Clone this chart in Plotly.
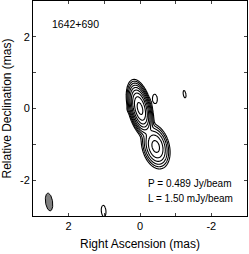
import numpy as np
import plotly.graph_objects as go

# Gaussian model components of the map (RA offset mas, Dec offset mas, peak mJy/beam,
# sigma along major axis mas, sigma along minor axis mas, position angle deg E of N)
comp_ra = [0.0, -0.44, 0.30, -0.42, -1.25, 1.02]
comp_dec = [0.0, -1.06, -0.02, 0.27, 0.40, -2.86]
comp_peak = [489.0, 62.0, 1.7, 2.3, 2.3, 2.3]
comp_smaj = [0.245, 0.235, 0.06, 0.14, 0.11, 0.17]
comp_smin = [0.10, 0.14, 0.05, 0.07, 0.04, 0.07]
comp_pa = [14.0, 15.0, 0.0, 5.0, 10.0, 5.0]

# contour levels (mJy/beam): lowest level L, doubling
levels = [1.5, 3, 6, 12, 24, 48, 96, 192, 384]

# restoring beam
beam_ra = 2.55
beam_dec = -2.61
beam_smaj = 0.25
beam_smin = 0.10
beam_pa = 8.0

title_text = "1642+690"
peak_text = "P = 0.489 Jy/beam"
low_text = "L = 1.50 mJy/beam"

x_ticks = [2, 0, -2]
x_ticklabels = ["2", "0", "-2"]
y_ticks = [2, 0, -2]
y_ticklabels = ["2", "0", "-2"]

# --- build map ---
grid = np.linspace(-3.0, 3.0, 601)
X, Y = np.meshgrid(grid, grid)
I = np.zeros_like(X)
for x0, y0, p, a, b, pa in zip(comp_ra, comp_dec, comp_peak, comp_smaj, comp_smin, comp_pa):
    t = np.deg2rad(pa)
    dx = X - x0
    dy = Y - y0
    u = dx * np.sin(t) + dy * np.cos(t)
    v = dx * np.cos(t) - dy * np.sin(t)
    I += p * np.exp(-0.5 * (u**2 / a**2 + v**2 / b**2))

lev = np.array(levels, dtype=float)
Z = np.log2(np.maximum(I, 1e-6) / lev[0])
Z = np.clip(Z, -4, 12).astype(np.float32)

fig = go.Figure()
fig.add_trace(go.Contour(
    x=grid, y=grid, z=Z,
    contours=dict(start=0, end=len(levels) - 1, size=1, coloring="lines"),
    colorscale=[[0, "black"], [1, "black"]],
    showscale=False,
    line=dict(width=1.1, smoothing=1),
    hoverinfo="skip",
))

# beam ellipse
th = np.linspace(0, 2 * np.pi, 100)
bt = np.deg2rad(beam_pa)
bu = beam_smaj * np.cos(th)
bv = beam_smin * np.sin(th)
bx = beam_ra + bu * np.sin(bt) + bv * np.cos(bt)
by = beam_dec + bu * np.cos(bt) - bv * np.sin(bt)
fig.add_trace(go.Scatter(
    x=bx, y=by, mode="lines", fill="toself",
    fillcolor="#808080", line=dict(color="black", width=1),
    hoverinfo="skip",
))

font_family = "Liberation Sans, Arial, Helvetica, sans-serif"

fig.add_annotation(x=2.52, y=2.35, xref="x", yref="y", text=title_text,
                   showarrow=False, xanchor="left", yanchor="middle",
                   font=dict(size=10.5, color="black"))
fig.add_annotation(x=-0.17, y=-2.09, xref="x", yref="y", text=peak_text,
                   showarrow=False, xanchor="left", yanchor="middle",
                   font=dict(size=10, color="black"))
fig.add_annotation(x=-0.17, y=-2.5, xref="x", yref="y", text=low_text,
                   showarrow=False, xanchor="left", yanchor="middle",
                   font=dict(size=10, color="black"))

axis_common = dict(
    showgrid=False, zeroline=False, automargin=True,
    showline=True, linecolor="black", linewidth=1, mirror="allticks",
    ticks="inside", ticklen=3, tickcolor="#444444", tickwidth=1,
    minor=dict(dtick=1, ticks="inside", ticklen=3, tickcolor="#444444", showgrid=False),
    tickfont=dict(size=11, color="black"),
)

fig.update_layout(
    width=249, height=254,
    margin=dict(l=33, r=2, t=1, b=38, autoexpand=False),
    paper_bgcolor="white", plot_bgcolor="white",
    showlegend=False,
    font=dict(family=font_family, color="black"),
    xaxis=dict(range=[3, -3], tickvals=x_ticks, ticktext=x_ticklabels,
               title=dict(text="Right Ascension (mas)", font=dict(size=12), standoff=8),
               **axis_common),
    yaxis=dict(range=[-3, 3], tickvals=y_ticks, ticktext=y_ticklabels,
               title=dict(text="Relative Declination (mas)", font=dict(size=12), standoff=5),
               **axis_common),
)

fig.write_html("out.html", config={"displayModeBar": False},
               post_script="document.body.style.margin='0px';")
